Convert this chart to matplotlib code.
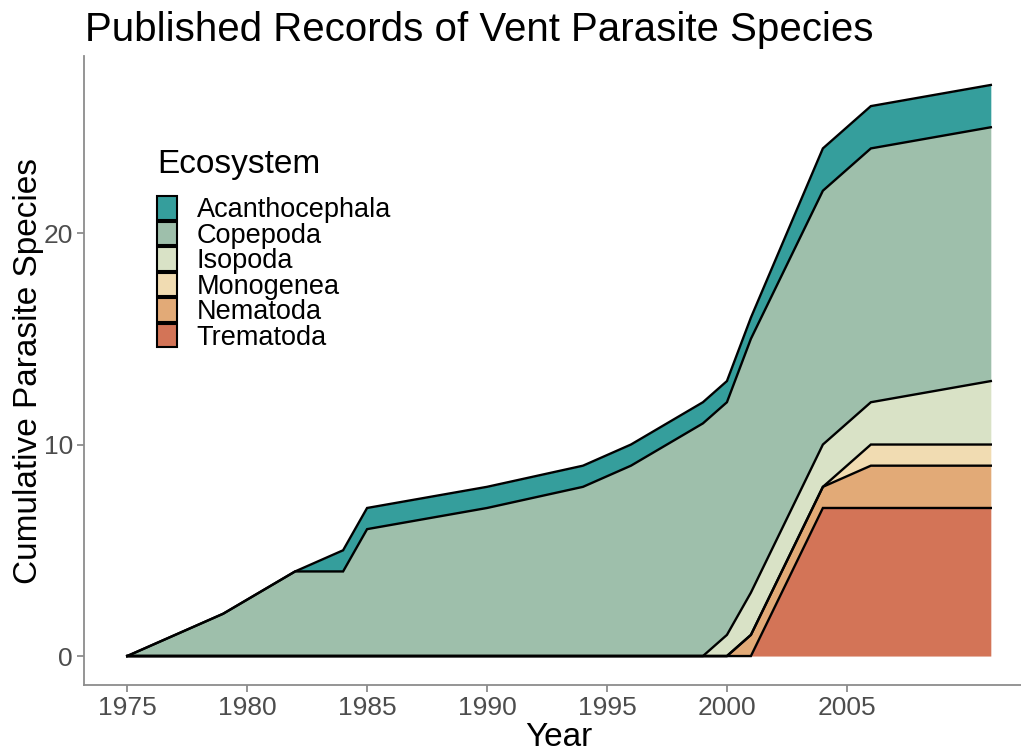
import matplotlib
matplotlib.use("Agg")
import matplotlib.pyplot as plt
import numpy as np
from matplotlib.patches import Patch

plt.rcParams['font.family'] = ['Liberation Sans', 'DejaVu Sans']

years = [1975, 1979, 1982, 1984, 1985, 1990, 1994, 1996, 1999, 2000, 2001, 2004, 2006, 2011]
trematoda      = [0, 0, 0, 0, 0, 0, 0, 0, 0, 0, 0, 7, 7, 7]
nematoda       = [0, 0, 0, 0, 0, 0, 0, 0, 0, 0, 1, 1, 2, 2]
monogenea      = [0, 0, 0, 0, 0, 0, 0, 0, 0, 0, 0, 0, 1, 1]
isopoda        = [0, 0, 0, 0, 0, 0, 0, 0, 0, 1, 2, 2, 2, 3]
copepoda       = [0, 2, 4, 4, 6, 7, 8, 9, 11, 11, 12, 12, 12, 12]
acanthocephala = [0, 0, 0, 1, 1, 1, 1, 1, 1, 1, 1, 2, 2, 2]

groups = ["Acanthocephala", "Copepoda", "Isopoda", "Monogenea", "Nematoda", "Trematoda"]
colors = {"Acanthocephala": "#359E9C", "Copepoda": "#9EBFAB", "Isopoda": "#D9E2C6",
          "Monogenea": "#F1DCB2", "Nematoda": "#E2AA77", "Trematoda": "#D37457"}
values = {"Acanthocephala": acanthocephala, "Copepoda": copepoda, "Isopoda": isopoda,
          "Monogenea": monogenea, "Nematoda": nematoda, "Trematoda": trematoda}
x_ticks = [1975, 1980, 1985, 1990, 1995, 2000, 2005]
y_ticks = [0, 10, 20]

W, H = 1021, 747
fig = plt.figure(figsize=(W/100, H/100), dpi=100)
left, right, top, bot = 84, 1034, 56.4, 684.6
ax = fig.add_axes([left/W, (H-bot)/H, (right-left)/W, (bot-top)/H])

x = np.array(years, dtype=float)
base = np.zeros(len(x))
stack_order = groups[::-1]  # bottom to top
tops = {}
for g in stack_order:
    t = base + np.array(values[g], dtype=float)
    ax.fill_between(x, base, t, color=colors[g], linewidth=0, zorder=2)
    tops[g] = t
    base = t
for g in stack_order:
    ax.plot(x, tops[g], color='black', lw=1.7, zorder=3, solid_joinstyle='miter')

xr = years[-1] - years[0]
ax.set_xlim(years[0] - 0.05*xr, years[-1] + 0.05*xr)
ax.set_ylim(-1.35, 28.35)
ax.set_xticks(x_ticks)
ax.set_yticks(y_ticks)
ax.set_xticklabels([str(v) for v in x_ticks])
ax.set_yticklabels([str(v) for v in y_ticks])
for s in ['top', 'right']:
    ax.spines[s].set_visible(False)
for s in ['left', 'bottom']:
    ax.spines[s].set_color('#8C8C8C')
    ax.spines[s].set_linewidth(1.3)
ax.tick_params(colors='#8C8C8C', labelcolor='#4D4D4D', labelsize=19, length=5, width=1.3, pad=3)
ax.set_xlabel("Year", fontsize=24, labelpad=2)
ax.set_ylabel("Cumulative Parasite Species", fontsize=24, labelpad=0)
fig.text(85/W, 1-30/H, "Published Records of Vent Parasite Species", fontsize=29,
         ha='left', va='center')

handles = [Patch(facecolor=colors[g], edgecolor='black', linewidth=1.5) for g in groups]
pw, ph = right - left, bot - top
leg = ax.legend(handles, groups, loc='upper left',
                bbox_to_anchor=((157 - left)/pw, 1 - (148.5 - top)/ph),
                frameon=False, fontsize=19.5, title="Ecosystem", title_fontsize=24,
                handlelength=0.74, handleheight=0.95, labelspacing=-0.052, handletextpad=0.72,
                borderaxespad=0, borderpad=0)
leg._legend_box.align = "left"
leg._legend_box.sep = 12

fig.savefig("out.png", dpi=100)
